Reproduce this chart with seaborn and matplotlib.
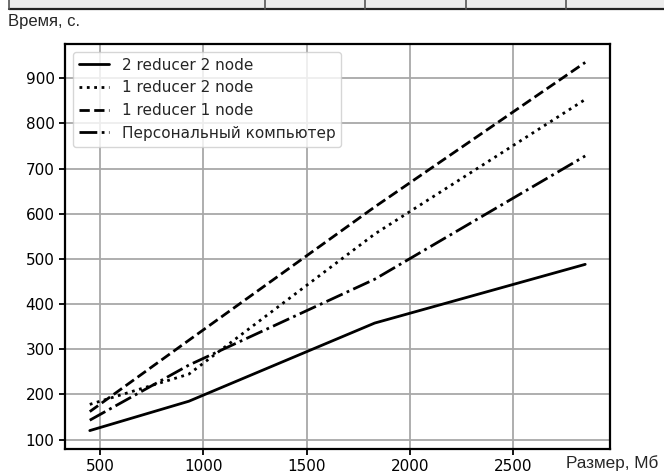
import matplotlib
matplotlib.use("Agg")
import matplotlib.pyplot as plt
import seaborn as sns
import pandas as pd
from matplotlib.lines import Line2D
from matplotlib.patches import Rectangle

sizes = [450, 930, 1830, 2850]
series_names = ["2 reducer 2 node", "1 reducer 2 node", "1 reducer 1 node", "Персональный компьютер"]
t_2r2n = [120, 185, 358, 488]
t_1r2n = [178, 245, 555, 853]
t_1r1n = [162, 320, 615, 935]
t_pc = [143, 265, 455, 728]
y_label = "Время, с."
x_label = "Размер, Мб"

values = [t_2r2n, t_1r2n, t_1r1n, t_pc]
df = pd.DataFrame({
    "size": sizes * 4,
    "time": sum(values, []),
    "series": sum([[n] * len(sizes) for n in series_names], []),
})

sns.set_style("ticks")
plt.rcParams["font.family"] = ["DejaVu Sans"]

W, H = 664, 473
fig = plt.figure(figsize=(W / 100, H / 100), dpi=100)
ax = fig.add_axes([65 / W, 1 - 449 / H, (610 - 65) / W, (449 - 44) / H])

styles = ["-", ":", "--", "-."]
for name, ls in zip(series_names, styles):
    sub = df[df["series"] == name]
    sns.lineplot(data=sub, x="size", y="time", ax=ax, color="black",
                 linestyle=ls, linewidth=2.0, label=name, sort=False)

ax.set_yticks([100, 200, 300, 400, 500, 600, 700, 800, 900])
ax.set_xticks([500, 1000, 1500, 2000, 2500])
ax.grid(True, color="#a8a8a8", linewidth=1.3)
ax.set_axisbelow(True)
for s in ax.spines.values():
    s.set_visible(True)
    s.set_color("black")
    s.set_linewidth(1.6)
ax.tick_params(axis="both", labelsize=11, length=4, width=1.3, colors="black")
ax.set_xlabel("")
ax.set_ylabel("")
leg = ax.legend(loc="upper left", fontsize=11, frameon=True, handlelength=2.0,
                borderaxespad=0.5)
leg.get_frame().set_edgecolor("#cccccc")

# header strip (table edge)
fig.patches.append(Rectangle((9 / W, 1 - 9 / H), 1 - 9 / W, 9 / H, transform=fig.transFigure,
                             facecolor="#ececec", edgecolor="none"))
fig.add_artist(Line2D([9 / W, 1], [1 - 9.5 / H, 1 - 9.5 / H], transform=fig.transFigure,
                      color="#222222", linewidth=1.6))
for xp in [9, 265, 365, 466, 566]:
    fig.add_artist(Line2D([xp / W, xp / W], [1, 1 - 9.5 / H], transform=fig.transFigure,
                          color="#555555", linewidth=1.2))

fig.text(8 / W, 1 - 21 / H, y_label, fontsize=12, family=["Liberation Sans", "DejaVu Sans"],
         ha="left", va="center")
fig.text(566 / W, 1 - 463 / H, x_label, fontsize=12.3, family=["Liberation Sans", "DejaVu Sans"],
         ha="left", va="center")

fig.savefig("out.png", dpi=100)
